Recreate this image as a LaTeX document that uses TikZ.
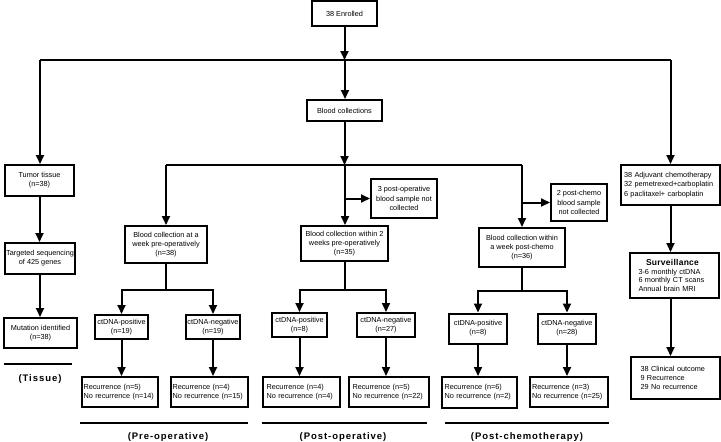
\documentclass[tikz,border=0pt]{standalone}
\usepackage{fontspec}
\setmainfont{Liberation Sans}
\newfontfamily\labfam[LetterSpace=10]{Liberation Sans}
\newfontfamily\survfam[LetterSpace=3]{Liberation Sans}
\usetikzlibrary{arrows.meta}
\newcommand\boxfont{\fontsize{7.3}{9.2}\selectfont}
\tikzset{
  bx/.style 2 args={draw, line width=2pt, inner sep=0pt, minimum width=#1pt, minimum height=#2pt, align=center, font=\boxfont},
  lbx/.style n args={3}{bx={#1}{#2}, text width=#3pt, align=left},
  ln/.style={line width=2pt},
  arr/.style={ln, -{Triangle[length=9pt,width=8pt]}},
  sepline/.style={line width=2pt},
  lab/.style={font=\labfam\bfseries\fontsize{9.5}{11}\selectfont, inner sep=0pt},
}
\begin{document}
\begin{tikzpicture}[x=1pt,y=-1pt]
\useasboundingbox[fill=white] (0,0) rectangle (721,442);
% nodes
\node[bx={65}{25}] (enr) at (344.5,13.5) {38 Enrolled};
\node[bx={75}{21}] (blood) at (344.5,110.5) {Blood collections};
\node[bx={69}{31}] (tumor) at (39.5,180.5) {Tumor tissue\\(n=38)};
\node[bx={70}{31}] (seq) at (40,258.5) {Targeted sequencing\\of 425 genes};
\node[bx={73}{30}] (mut) at (40.5,333) {Mutation identified\\(n=38)};
% pre-operative
\node[bx={82}{37}] (pre) at (166,244.5) {Blood collection at a\\week pre-operatively\\(n=38)};
\node[bx={53}{24}] (prepos) at (121.5,327) {ctDNA-positive\\(n=19)};
\node[bx={54}{24}] (preneg) at (213,327) {ctDNA-negative\\(n=19)};
\node[lbx={76}{30}{73}] (preposr) at (120,392) {Recurrence (n=5)\\No recurrence (n=14)};
\node[lbx={77}{30}{74}] (prenegr) at (209.5,392) {Recurrence (n=4)\\No recurrence (n=15)};
% post-operative
\node[bx={87}{35}] (post) at (344.5,243.5) {Blood collection within 2\\weeks pre-operatively\\(n=35)};
\node[bx={66}{39}] (postnc) at (404,198.5) {3 post-operative\\blood sample not\\collected};
\node[bx={55}{24}] (postpos) at (299.5,325) {ctDNA-positive\\(n=8)};
\node[bx={58}{24}] (postneg) at (386,325) {ctDNA-negative\\(n=27)};
\node[lbx={77}{30}{70}] (postposr) at (301.5,392) {Recurrence (n=4)\\No recurrence (n=4)};
\node[lbx={80}{30}{73}] (postnegr) at (389,392) {Recurrence (n=5)\\No recurrence (n=22)};
% post-chemo
\node[bx={86}{39}] (chemo) at (522,247.5) {Blood collection within\\a week post-chemo\\(n=36)};
\node[bx={56}{37}] (chemonc) at (579,202.5) {2 post-chemo\\blood sample\\not collected};
\node[bx={58}{30}] (chemopos) at (478,328.5) {ctDNA-positive\\(n=8)};
\node[bx={58}{30}] (chemoneg) at (567,328.5) {ctDNA-negative\\(n=28)};
\node[lbx={75}{31}{70}] (chemoposr) at (479.5,392.5) {Recurrence (n=6)\\No recurrence (n=2)};
\node[lbx={78}{30}{74}] (chemonegr) at (569,392) {Recurrence (n=3)\\No recurrence (n=25)};
% right column
\node[lbx={99}{40}{93}] (adj) at (670.5,185) {38 Adjuvant chemotherapy\\32 pemetrexed+carboplatin\\6 paclitaxel+ carboplatin};
\node[lbx={89}{45}{72}, font=\fontsize{7.3}{8.6}\selectfont] (surv) at (674.5,275.5) {\makebox[68pt][c]{\survfam\bfseries\fontsize{8.5}{10}\selectfont Surveillance}\\3-6 monthly ctDNA\\6 monthly CT scans\\Annual brain MRI};
\node[lbx={89}{42}{70}, font=\fontsize{7.3}{8.8}\selectfont] (clin) at (675.5,378) {38 Clinical outcome\\9 Recurrence\\29 No recurrence};
% junctions
\coordinate (jl) at (40,60);
\coordinate (jr) at (670.5,60);
\coordinate (j1) at (345,60);
\coordinate (k) at (345,165);
\coordinate (kl) at (166,165);
\coordinate (kr) at (522,165);
\coordinate (pb) at (166,290);
\coordinate (qb) at (345,290);
\coordinate (cb) at (522,291);
% connectors
\draw[ln] (jl) -- (jr);
\draw[arr] (enr.south) -- (enr.south |- j1);
\draw[arr] (j1) -- (j1 |- blood.north);
\draw[arr] (jl) -- (jl |- tumor.north);
\draw[arr] (jr) -- (jr |- adj.north);
\draw[arr] (blood.south) -- (blood.south |- k);
\draw[ln] (kl) -- (kr);
\draw[arr] (kl) -- (kl |- pre.north);
\draw[arr] (k) -- (k |- post.north);
\draw[arr] (kr) -- (kr |- chemo.north);
\draw[arr] (k |- postnc.west) -- (postnc.west);
\draw[arr] (kr |- chemonc.west) -- (chemonc.west);
\draw[arr] (tumor.south) -- (tumor.south |- seq.north);
\draw[arr] (seq.south) -- (seq.south |- mut.north);
% pre brackets
\draw[ln] (pre.south) -- (pb);
\draw[arr] (pb) -| (prepos.north);
\draw[arr] (pb) -| (preneg.north);
\draw[arr] (prepos.south) -- (prepos.south |- preposr.north);
\draw[arr] (preneg.south) -- (preneg.south |- prenegr.north);
% post brackets
\draw[ln] (post.south) -- (post.south |- qb);
\draw[arr] (qb) -| (postpos.north);
\draw[arr] (qb) -| (postneg.north);
\draw[arr] (postpos.south) -- (postpos.south |- postposr.north);
\draw[arr] (postneg.south) -- (postneg.south |- postnegr.north);
% chemo brackets
\draw[ln] (chemo.south) -- (cb);
\draw[arr] (cb) -| (chemopos.north);
\draw[arr] (cb) -| (chemoneg.north);
\draw[arr] (chemopos.south) -- (chemopos.south |- chemoposr.north);
\draw[arr] (chemoneg.south) -- (chemoneg.south |- chemonegr.north);
% right column
\draw[arr] (adj.south) -- (adj.south |- surv.north);
\draw[arr] (jr |- surv.south) -- (jr |- clin.north);
% separators and labels
\draw[sepline] (4,364) -- (72,364);
\draw[sepline] (80,423) -- (248,423);
\draw[sepline] (262,423) -- (427,423);
\draw[sepline] (445,423) -- (609,423);
\node[lab] (ltis) at (40,379) {(Tissue)};
\node[lab] (lpre) at (168,437) {(Pre-operative)};
\node[lab] (lpost) at (343,437) {(Post-operative)};
\node[lab] (lchemo) at (527,437) {(Post-chemotherapy)};
\end{tikzpicture}
\end{document}
